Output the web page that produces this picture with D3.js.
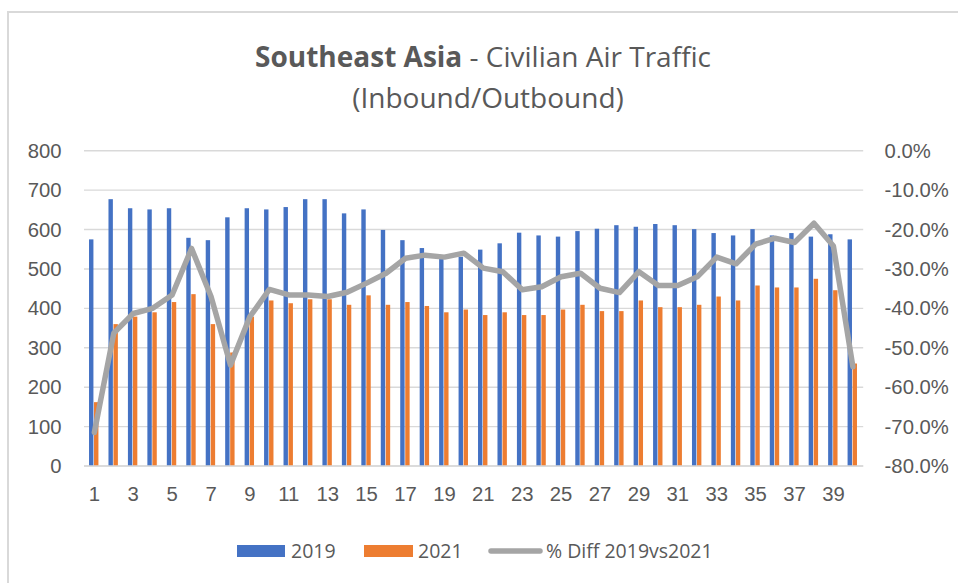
<!DOCTYPE html>
<html>
<head>
<meta charset="utf-8">
<script src="https://cdn.jsdelivr.net/npm/d3@7"></script>
<style>
  html, body { margin: 0; padding: 0; background: #fff; }
  svg { display: block; font-family: "Open Sans", sans-serif; }
</style>
</head>
<body>
<svg id="chart" width="958" height="583"></svg>
<script>
const categories = d3.range(1, 41).map(String);
const series2019 = [575,677,654,651,654,579,573,631,654,651,657,677,677,641,651,599,573,553,533,531,549,565,592,585,582,596,602,611,607,614,611,601,591,585,601,585,591,582,588,575];
const series2021 = [162,360,379,390,416,436,360,288,379,420,413,423,423,409,433,409,416,406,390,397,383,390,383,383,397,409,393,393,420,403,403,409,430,420,458,453,453,475,446,260];
const pctDiff = [-71.5,-46.3,-41.3,-40.0,-36.6,-24.8,-37.0,-54.4,-42.1,-35.2,-36.6,-36.6,-37.0,-35.9,-33.6,-31.1,-27.3,-26.5,-27.0,-26.0,-29.8,-30.7,-35.3,-34.5,-32.0,-31.1,-34.9,-36.0,-30.7,-34.2,-34.2,-32.0,-27.0,-28.7,-23.7,-22.2,-23.3,-18.4,-24.2,-54.8];
const leftTicks = [0,100,200,300,400,500,600,700,800];
const rightTicks = [0,-10,-20,-30,-40,-50,-60,-70,-80];
const seriesNames = ["2019","2021"];
const legendLabels = ["2019","2021","% Diff 2019vs2021"];

const colors = { "2019": "#4472c4", "2021": "#ed7d31", line: "#a5a5a5" };
const textColor = "#595959";
const gridColor = "#d9d9d9";
const tickFont = "20.3px";

const svg = d3.select("#chart");

// outer chart border
svg.append("rect")
  .attr("x", 8).attr("y", 12)
  .attr("width", 1000).attr("height", 1000)
  .attr("fill", "none").attr("stroke", gridColor).attr("stroke-width", 2);

const plot = { left: 84.6, right: 862.6, top: 150.7, bottom: 466 };

const x = d3.scaleBand().domain(categories).range([plot.left, plot.right]).padding(0);
const xInner = d3.scaleBand().domain(seriesNames).range([-5.3, 4.1]).paddingInner(0.12);
const yL = d3.scaleLinear().domain([0, 800]).range([plot.bottom, plot.top]);
const yR = d3.scaleLinear().domain([-80, 0]).range([plot.bottom, plot.top]);

// gridlines
svg.append("g").selectAll("line").data(leftTicks).join("line")
  .attr("x1", plot.left - 0.6).attr("x2", plot.right + 0.6)
  .attr("y1", d => yL(d)).attr("y2", d => yL(d))
  .attr("stroke", gridColor).attr("stroke-width", 1.4);

// left axis
const leftAxis = svg.append("g")
  .attr("transform", `translate(${plot.left},0)`)
  .call(d3.axisLeft(yL).tickValues(leftTicks).tickSize(0).tickPadding(23).tickFormat(d3.format("d")));
leftAxis.select(".domain").remove();
leftAxis.selectAll("text").attr("fill", textColor).style("font-size", tickFont);

// right axis
const loc = d3.formatLocale({ decimal: ".", thousands: ",", grouping: [3], currency: ["", ""], minus: "-" });
const pctFmt = loc.format(".1f");
const rightAxis = svg.append("g")
  .attr("transform", `translate(${plot.right},0)`)
  .call(d3.axisRight(yR).tickValues(rightTicks).tickSize(0).tickPadding(22).tickFormat(d => pctFmt(d) + "%"));
rightAxis.select(".domain").remove();
rightAxis.selectAll("text").attr("fill", textColor).style("font-size", tickFont);

// bottom axis
const bottomAxis = svg.append("g")
  .attr("transform", `translate(0,${plot.bottom})`)
  .call(d3.axisBottom(x).tickValues(categories.filter((d, i) => i % 2 === 0)).tickSize(0).tickPadding(21));
bottomAxis.select(".domain").remove();
bottomAxis.selectAll("text").attr("fill", textColor).style("font-size", tickFont);

// bars
const groups = svg.append("g").selectAll("g").data(categories).join("g")
  .attr("transform", d => `translate(${x(d) + x.bandwidth() / 2},0)`);
groups.selectAll("rect").data((d, i) => [
  { key: "2019", v: series2019[i] },
  { key: "2021", v: series2021[i] }
]).join("rect")
  .attr("x", d => xInner(d.key))
  .attr("width", xInner.bandwidth())
  .attr("y", d => yL(d.v))
  .attr("height", d => yL(0) - yL(d.v))
  .attr("fill", d => colors[d.key]);

// x axis baseline
svg.append("line")
  .attr("x1", plot.left - 0.6).attr("x2", plot.right + 0.6)
  .attr("y1", yL(0)).attr("y2", yL(0))
  .attr("stroke", gridColor).attr("stroke-width", 1.4);

// % diff line
const line = d3.line()
  .x((d, i) => x(categories[i]) + x.bandwidth() / 2)
  .y(d => yR(d));
svg.append("path").datum(pctDiff)
  .attr("d", line)
  .attr("fill", "none")
  .attr("stroke", colors.line)
  .attr("stroke-width", 5.5)
  .attr("stroke-linejoin", "round")
  .attr("stroke-linecap", "round");

// title
const title = svg.append("text").attr("x", 483).attr("y", 67)
  .attr("text-anchor", "middle").attr("fill", textColor).style("font-size", "28px");
title.append("tspan").attr("font-weight", "bold").text("Southeast Asia");
title.append("tspan").text(" - Civilian Air Traffic");
svg.append("text").attr("x", 488).attr("y", 108)
  .attr("text-anchor", "middle").attr("fill", textColor).style("font-size", "28px")
  .text("(Inbound/Outbound)");

// legend
const legY = 551;
const leg = svg.append("g");
leg.append("rect").attr("x", 237).attr("y", legY - 6).attr("width", 48).attr("height", 12).attr("fill", colors["2019"]);
leg.append("text").attr("x", 291).attr("y", legY).attr("dy", "0.35em").attr("fill", textColor).style("font-size", "19.5px").text(legendLabels[0]);
leg.append("rect").attr("x", 364).attr("y", legY - 6).attr("width", 49).attr("height", 12).attr("fill", colors["2021"]);
leg.append("text").attr("x", 418).attr("y", legY).attr("dy", "0.35em").attr("fill", textColor).style("font-size", "19.5px").text(legendLabels[1]);
leg.append("line").attr("x1", 491).attr("x2", 540).attr("y1", legY).attr("y2", legY)
  .attr("stroke", colors.line).attr("stroke-width", 5.5).attr("stroke-linecap", "round");
leg.append("text").attr("x", 546).attr("y", legY).attr("dy", "0.35em").attr("fill", textColor).style("font-size", "19.5px").text(legendLabels[2]);
</script>
</body>
</html>
